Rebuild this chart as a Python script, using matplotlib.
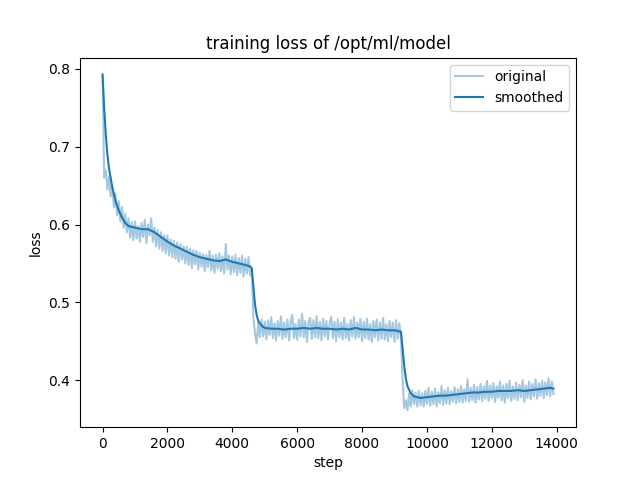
import matplotlib
matplotlib.use("Agg")
import matplotlib.pyplot as plt
import numpy as np

loss_part1 = [
    0.790, 0.660, 0.670, 0.645, 0.662, 0.636, 0.650, 0.622, 0.640, 0.612,
    0.630, 0.604, 0.622, 0.596, 0.614, 0.590, 0.608, 0.583, 0.603, 0.580,
    0.604, 0.582, 0.598, 0.578, 0.602, 0.584, 0.606, 0.576, 0.600, 0.586,
    0.608, 0.578, 0.596, 0.572, 0.593, 0.569, 0.590, 0.566, 0.586, 0.563,
    0.586, 0.560, 0.581, 0.558, 0.579, 0.556, 0.577, 0.552, 0.575, 0.555,
    0.572, 0.550, 0.571, 0.548, 0.569, 0.544, 0.567, 0.549, 0.566, 0.542,
    0.564, 0.546, 0.562, 0.540, 0.561, 0.545, 0.566, 0.541, 0.560, 0.538,
    0.561, 0.543, 0.563, 0.540, 0.559, 0.537, 0.575, 0.542, 0.560, 0.536,
    0.559, 0.539, 0.561, 0.535, 0.557, 0.538, 0.560, 0.533, 0.556, 0.537,
    0.558, 0.534,
]
loss_part2 = [
    0.542, 0.480, 0.460, 0.447, 0.474, 0.455, 0.478, 0.456, 0.475, 0.452,
    0.477, 0.458, 0.481, 0.454, 0.473, 0.451, 0.476, 0.457, 0.482, 0.453,
    0.474, 0.455, 0.478, 0.451, 0.475, 0.484, 0.454, 0.472, 0.452, 0.478,
    0.456, 0.485, 0.455, 0.476, 0.449, 0.474, 0.480, 0.453, 0.477, 0.455,
    0.482, 0.454, 0.475, 0.451, 0.479, 0.456, 0.476, 0.452, 0.473, 0.481,
    0.454, 0.475, 0.450, 0.478, 0.455, 0.474, 0.452, 0.480, 0.454, 0.472,
    0.451, 0.477, 0.456, 0.481, 0.453, 0.474, 0.455, 0.479, 0.450, 0.475,
    0.454, 0.479, 0.452, 0.472, 0.449, 0.476, 0.455, 0.478, 0.451, 0.474,
    0.453, 0.480, 0.452, 0.472, 0.450, 0.476, 0.455, 0.474, 0.449, 0.477,
    0.453, 0.473, 0.455,
]
loss_part3 = [
    0.400, 0.364, 0.374, 0.361, 0.383, 0.366, 0.387, 0.369, 0.384, 0.366,
    0.386, 0.368, 0.383, 0.366, 0.386, 0.369, 0.390, 0.367, 0.385, 0.369,
    0.389, 0.366, 0.384, 0.370, 0.392, 0.368, 0.387, 0.370, 0.390, 0.369,
    0.386, 0.372, 0.391, 0.370, 0.388, 0.372, 0.392, 0.371, 0.388, 0.373,
    0.401, 0.372, 0.390, 0.374, 0.394, 0.371, 0.391, 0.375, 0.395, 0.373,
    0.392, 0.376, 0.399, 0.373, 0.393, 0.377, 0.396, 0.372, 0.392, 0.377,
    0.398, 0.374, 0.393, 0.371, 0.395, 0.377, 0.399, 0.373, 0.392, 0.376,
    0.397, 0.374, 0.394, 0.378, 0.400, 0.372, 0.393, 0.377, 0.398, 0.375,
    0.395, 0.379, 0.401, 0.376, 0.396, 0.380, 0.399, 0.377, 0.397, 0.381,
    0.402, 0.379, 0.398, 0.382,
]
loss = loss_part1 + loss_part2 + loss_part3
steps = np.arange(len(loss)) * 50

# smoothed curve
smooth_steps = [
    0, 50, 100, 150, 200, 300, 400, 500, 600, 700, 800, 1000, 1200, 1400,
    1600, 1800, 2000, 2200, 2400, 2600, 2800, 3000, 3200, 3400, 3600, 3800,
    4000, 4200, 4400, 4550, 4600, 4650, 4700, 4750, 4800, 4900, 5000, 5200,
    5400, 5600, 5800, 6000, 6200, 6400, 6600, 6800, 7000, 7200, 7400, 7600,
    7800, 8000, 8200, 8400, 8600, 8800, 9000, 9200, 9250, 9300, 9350, 9400,
    9500, 9600, 9700, 9800, 10000, 10200, 10400, 10600, 10800, 11000, 11200,
    11400, 11600, 11800, 12000, 12200, 12400, 12600, 12800, 13000, 13200,
    13400, 13600, 13800, 13900,
]
smooth_loss = [
    0.793, 0.750, 0.715, 0.690, 0.672, 0.648, 0.630, 0.618, 0.609, 0.602,
    0.598, 0.596, 0.594, 0.594, 0.590, 0.584, 0.578, 0.573, 0.569, 0.565,
    0.561, 0.558, 0.556, 0.554, 0.553, 0.555, 0.552, 0.550, 0.548, 0.546,
    0.544, 0.520, 0.497, 0.484, 0.476, 0.470, 0.467, 0.466, 0.466, 0.465,
    0.466, 0.466, 0.467, 0.466, 0.467, 0.466, 0.466, 0.465, 0.466, 0.465,
    0.467, 0.465, 0.465, 0.464, 0.465, 0.464, 0.464, 0.462, 0.440, 0.418,
    0.402, 0.392, 0.383, 0.379, 0.378, 0.377, 0.378, 0.379, 0.380, 0.380,
    0.381, 0.382, 0.383, 0.384, 0.384, 0.385, 0.385, 0.386, 0.386, 0.386,
    0.387, 0.386, 0.387, 0.388, 0.389, 0.390, 0.389,
]

plt.figure(figsize=(6.4, 4.8), dpi=100)
plt.plot(steps, loss, color="#1f77b4", alpha=0.4, label="original")
plt.plot(smooth_steps, smooth_loss, color="#1f77b4", label="smoothed")
plt.title("training loss of /opt/ml/model")
plt.xlabel("step")
plt.ylabel("loss")
plt.legend()
plt.savefig("out.png", dpi=100)
